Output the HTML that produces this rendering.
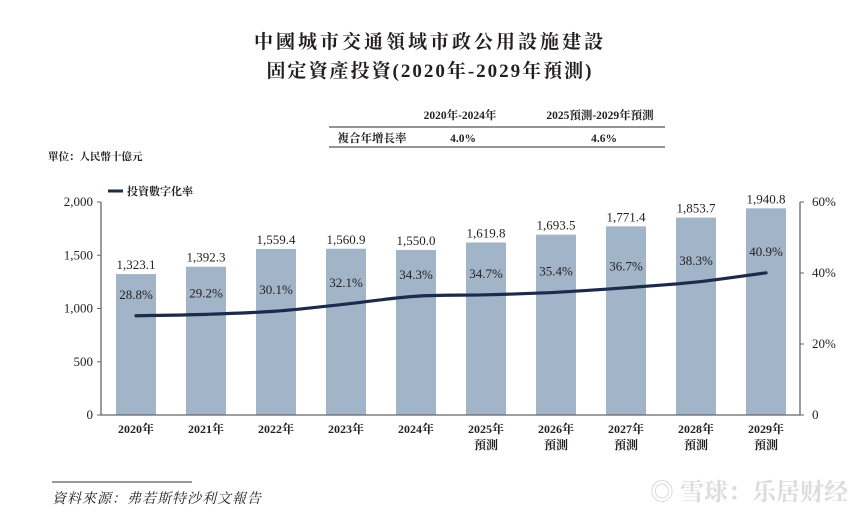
<!DOCTYPE html>
<html><head><meta charset="utf-8">
<style>
body{margin:0;background:#fff;}
svg text{font-family:"Liberation Serif","Noto Serif CJK SC",serif;fill:#231f20;}
</style></head>
<body>
<svg id="c" width="861" height="511" viewBox="0 0 861 511">
<text x="430" y="48" text-anchor="middle" font-size="19" font-weight="bold" letter-spacing="3">中國城市交通領域市政公用設施建設</text>
<text x="430" y="77" text-anchor="middle" font-size="19" font-weight="bold" letter-spacing="2">固定資產投資(2020年-2029年預測)</text>
<g>
<text x="460" y="119" text-anchor="middle" font-size="11.5" font-weight="bold">2020年-2024年</text>
<text x="600" y="119" text-anchor="middle" font-size="11.5" font-weight="bold">2025預測-2029年預測</text>
<line x1="329" y1="127" x2="665" y2="127" stroke="#555" stroke-width="1.2"/>
<text x="372" y="142" text-anchor="middle" font-size="11.5" font-weight="bold">複合年增長率</text>
<text x="463" y="142" text-anchor="middle" font-size="11.5" font-weight="bold">4.0%</text>
<text x="604" y="142" text-anchor="middle" font-size="11.5" font-weight="bold">4.6%</text>
<line x1="329" y1="147" x2="665" y2="147" stroke="#555" stroke-width="1.2"/>
</g>
<text x="48" y="160" font-size="10.5" font-weight="bold">單位：人民幣十億元</text>
<g>
<line x1="108" y1="191" x2="123" y2="191" stroke="#1c2b4a" stroke-width="3"/>
<text x="127" y="195" font-size="11" font-weight="bold">投資數字化率</text>
</g>
<g id="plot"></g>
<line x1="52" y1="482" x2="192" y2="482" stroke="#333" stroke-width="1"/>
<text x="52" y="503" font-size="14" font-style="italic" letter-spacing="1">資料來源：弗若斯特沙利文報告</text>
<text x="848" y="500" text-anchor="end" font-size="24" font-family="Liberation Sans,Noto Sans CJK SC,sans-serif" style="fill:#dcdcdc" font-weight="bold">◎ 雪球：乐居财经</text>
</svg>
<script>
const years=["2020年","2021年","2022年","2023年","2024年","2025年","2026年","2027年","2028年","2029年"];
const forecast=[false,false,false,false,false,true,true,true,true,true];
const invest=[1323.1,1392.3,1559.4,1560.9,1550.0,1619.8,1693.5,1771.4,1853.7,1940.8];
const investLabels=["1,323.1","1,392.3","1,559.4","1,560.9","1,550.0","1,619.8","1,693.5","1,771.4","1,853.7","1,940.8"];
const rate=[28.8,29.2,30.1,32.1,34.3,34.7,35.4,36.7,38.3,40.9];
const leftTicks=[0,500,1000,1500,2000];
const leftTickLabels=["0","500","1,000","1,500","2,000"];
const rightTicks=[0,20,40,60];
const rightTickLabels=["0","20%","40%","60%"];

const NS="http://www.w3.org/2000/svg";
const g=document.getElementById('plot');
const x0=101,x1=800,yb=415,yt=202;
const yL=v=>yb-(v/2000)*(yb-yt);
const yR=v=>yb-(v/60)*(yb-yt)+3;
const xC=i=>136+i*70;
function mk(t,a,txt){const e=document.createElementNS(NS,t);for(const k in a)e.setAttribute(k,a[k]);if(txt!==undefined)e.textContent=txt;g.appendChild(e);return e;}
invest.forEach((v,i)=>{
 const r=mk('rect',{x:xC(i)-20,y:yL(v),width:40,height:yb-yL(v),fill:'#a2b4c8'});
 
 
 const t=mk('text',{x:xC(i),y:yL(v)-5,'text-anchor':'middle','font-size':13},investLabels[i]);
 
 
 const xl=mk('text',{x:xC(i),y:433,'text-anchor':'middle','font-size':12,'font-weight':'bold'},years[i]);
 
 
 if(forecast[i]){const f=mk('text',{x:xC(i),y:449,'text-anchor':'middle','font-size':12,'font-weight':'bold'},'預測');
 
 }
});
const pts=rate.map((v,i)=>[xC(i),yR(v)]);
let d='M'+pts[0][0]+','+pts[0][1];
for(let i=0;i<pts.length-1;i++){
 const p0=pts[Math.max(0,i-1)],p1=pts[i],p2=pts[i+1],p3=pts[Math.min(pts.length-1,i+2)];
 const c1=[p1[0]+(p2[0]-p0[0])/6,p1[1]+(p2[1]-p0[1])/6];
 const c2=[p2[0]-(p3[0]-p1[0])/6,p2[1]-(p3[1]-p1[1])/6];
 d+=' C'+c1+' '+c2+' '+p2;
}
const ln=mk('path',{d:d,fill:'none',stroke:'#1c2b4a','stroke-width':3.2,'stroke-linecap':'round'});


rate.forEach((v,i)=>{
 const t=mk('text',{x:xC(i),y:yR(v)-17,'text-anchor':'middle','font-size':13},v.toFixed(1)+'%');
 
 
});
const ax=mk('path',{d:`M${x0},${yt} V${yb} H${x1} V${yt}`,fill:'none',stroke:'#666','stroke-width':1.3});


leftTicks.forEach((v,i)=>{
 mk('line',{x1:x0-4,x2:x0,y1:yL(v),y2:yL(v),stroke:'#666'});
 const t=mk('text',{x:x0-8,y:yL(v)+4,'text-anchor':'end','font-size':13},leftTickLabels[i]);
 
 
});
rightTicks.forEach((v,i)=>{
 const y=yb-(v/60)*(yb-yt);
 mk('line',{x1:x1,x2:x1+4,y1:y,y2:y,stroke:'#666'});
 const t=mk('text',{x:x1+12,y:y+4,'font-size':13},rightTickLabels[i]);
 
 
});
</script>
</body></html>
